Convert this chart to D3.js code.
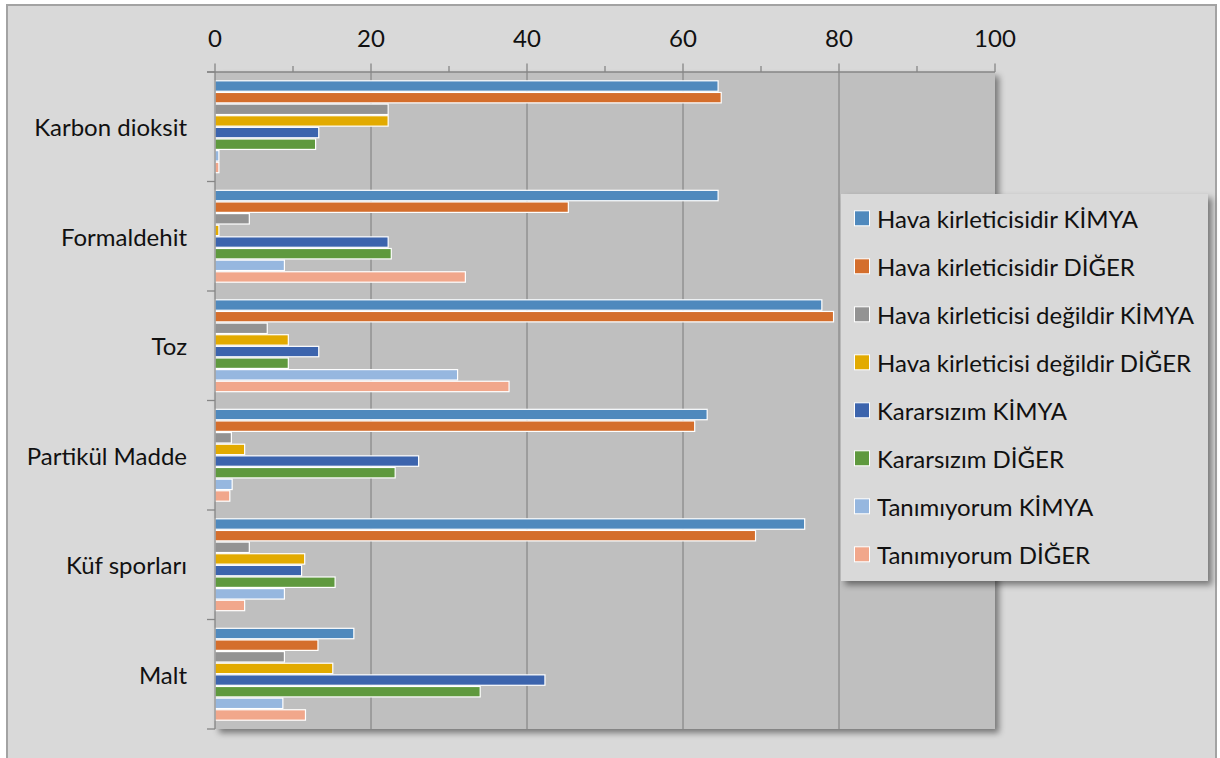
<!DOCTYPE html>
<html>
<head>
<meta charset="utf-8">
<script src="https://cdn.jsdelivr.net/npm/d3@7"></script>
<style>
  html, body { margin: 0; padding: 0; background: #ffffff; }
  svg { display: block; font-family: Lato, "Open Sans", sans-serif; }
</style>
</head>
<body>
<svg id="chart" width="1220" height="758"></svg>
<script>
// Substances asked about (top to bottom)
const categories = ["Karbon dioksit", "Formaldehit", "Toz", "Partikül Madde", "Küf sporları", "Malt"];

// Response series (legend order = bar order within each group)
const seriesNames = [
  "Hava kirleticisidir KİMYA",
  "Hava kirleticisidir DİĞER",
  "Hava kirleticisi değildir KİMYA",
  "Hava kirleticisi değildir DİĞER",
  "Kararsızım KİMYA",
  "Kararsızım DİĞER",
  "Tanımıyorum KİMYA",
  "Tanımıyorum DİĞER"
];

// Percentages per series, one value per category
const havaKimya      = [64.5, 64.5, 77.8, 63.1, 75.6, 17.8];
const havaDiger      = [64.9, 45.3, 79.3, 61.5, 69.3, 13.2];
const degilKimya     = [22.2,  4.4,  6.7,  2.1,  4.4,  8.9];
const degilDiger     = [22.2,  0.5,  9.4,  3.8, 11.5, 15.1];
const kararsizKimya  = [13.3, 22.2, 13.3, 26.1, 11.1, 42.3];
const kararsizDiger  = [12.9, 22.6,  9.4, 23.1, 15.4, 34.0];
const tanimiyorKimya = [ 0.5,  8.9, 31.1,  2.2,  8.9,  8.7];
const tanimiyorDiger = [ 0.5, 32.1, 37.7,  1.9,  3.8, 11.6];

const seriesValues = [havaKimya, havaDiger, degilKimya, degilDiger,
                      kararsizKimya, kararsizDiger, tanimiyorKimya, tanimiyorDiger];

const seriesColors = ["#4f89bd", "#d46e2c", "#939393", "#e2aa00",
                      "#3c64ad", "#5f993e", "#96b7df", "#f1a78b"];

const xTicks = [0, 20, 40, 60, 80, 100];

// Layout
const W = 1220, H = 758;
const plot = { left: 215, right: 995, top: 72, bottom: 729 };
const FONT = 24;

const svg = d3.select("#chart");

// Drop shadow used by the plot area and legend
const defs = svg.append("defs");
const shadow = defs.append("filter").attr("id", "shadow")
  .attr("x", "-5%").attr("y", "-5%").attr("width", "115%").attr("height", "115%");
shadow.append("feDropShadow")
  .attr("dx", 4).attr("dy", 4).attr("stdDeviation", 3)
  .attr("flood-color", "#000").attr("flood-opacity", 0.45);

// Chart background with its frame
svg.append("rect")
  .attr("x", 7).attr("y", 5).attr("width", 1209).attr("height", 770)
  .attr("fill", "#d9d9d9").attr("stroke", "#a3a3a3").attr("stroke-width", 2);

// Scales
const x = d3.scaleLinear().domain([0, 100]).range([plot.left, plot.right]);
const y = d3.scaleBand().domain(categories).range([plot.top, plot.bottom])
  .paddingInner(0.15).paddingOuter(0.075);
const yInner = d3.scaleBand().domain(d3.range(seriesNames.length)).range([0, y.bandwidth()]);

// Plot area
svg.append("rect")
  .attr("x", plot.left).attr("y", plot.top)
  .attr("width", plot.right - plot.left).attr("height", plot.bottom - plot.top)
  .attr("fill", "#bfbfbf").attr("filter", "url(#shadow)");

// Vertical gridlines at the major ticks
svg.append("g").selectAll("line")
  .data(xTicks.filter(d => d > 0 && d < 100))
  .join("line")
  .attr("x1", d => x(d)).attr("x2", d => x(d))
  .attr("y1", plot.top).attr("y2", plot.bottom)
  .attr("stroke", "#8a8a8a").attr("stroke-width", 1.3);

// Bars
const groups = svg.append("g").selectAll("g")
  .data(categories)
  .join("g")
  .attr("transform", d => `translate(0,${y(d)})`);

groups.selectAll("rect")
  .data((cat, ci) => seriesValues.map((vals, si) => ({ si, v: vals[ci] })))
  .join("rect")
  .attr("x", x(0))
  .attr("y", d => yInner(d.si) + 0.6)
  .attr("width", d => x(d.v) - x(0))
  .attr("height", yInner.bandwidth() - 1.2)
  .attr("fill", d => seriesColors[d.si])
  .attr("stroke", "#ffffff").attr("stroke-width", 1.2);

// Top value axis: major and minor ticks
const axisG = svg.append("g");
axisG.append("line")
  .attr("x1", plot.left - 8).attr("x2", plot.right)
  .attr("y1", plot.top).attr("y2", plot.top)
  .attr("stroke", "#868686").attr("stroke-width", 1.3);
axisG.selectAll("line.minor")
  .data(d3.range(10, 100, 20))
  .join("line").attr("class", "minor")
  .attr("x1", d => x(d)).attr("x2", d => x(d))
  .attr("y1", plot.top - 6).attr("y2", plot.top)
  .attr("stroke", "#868686").attr("stroke-width", 1.3);
axisG.selectAll("line.major")
  .data(xTicks)
  .join("line").attr("class", "major")
  .attr("x1", d => x(d)).attr("x2", d => x(d))
  .attr("y1", plot.top - 8.5).attr("y2", plot.top)
  .attr("stroke", "#868686").attr("stroke-width", 1.3);
axisG.selectAll("text")
  .data(xTicks)
  .join("text")
  .attr("x", d => x(d)).attr("y", 37)
  .attr("text-anchor", "middle").attr("dominant-baseline", "central")
  .attr("font-size", FONT).attr("fill", "#111")
  .text(d => d);

// Left category axis
const catAxis = svg.append("g");
catAxis.append("line")
  .attr("x1", plot.left).attr("x2", plot.left)
  .attr("y1", plot.top).attr("y2", plot.bottom)
  .attr("stroke", "#868686").attr("stroke-width", 1.3);
const boundaries = d3.range(categories.length + 1).map(i => plot.top + i * (plot.bottom - plot.top) / categories.length);
catAxis.selectAll("line.tick")
  .data(boundaries)
  .join("line").attr("class", "tick")
  .attr("x1", plot.left - 8).attr("x2", plot.left)
  .attr("y1", d => d).attr("y2", d => d)
  .attr("stroke", "#868686").attr("stroke-width", 1.3);
catAxis.selectAll("text")
  .data(categories)
  .join("text")
  .attr("x", 187)
  .attr("y", d => y(d) + y.bandwidth() / 2)
  .attr("text-anchor", "end").attr("dominant-baseline", "central")
  .attr("font-size", FONT).attr("fill", "#111")
  .text(d => d);

// Legend
const legend = svg.append("g");
legend.append("rect")
  .attr("x", 841).attr("y", 194).attr("width", 367).attr("height", 387)
  .attr("fill", "#d9d9d9").attr("filter", "url(#shadow)");
const items = legend.selectAll("g.item")
  .data(seriesNames)
  .join("g").attr("class", "item")
  .attr("transform", (d, i) => `translate(0,${218.3 + i * 48})`);
items.append("rect")
  .attr("x", 854.5).attr("y", -7.5).attr("width", 15).attr("height", 15)
  .attr("fill", (d, i) => seriesColors[i])
  .attr("stroke", "#ffffff").attr("stroke-width", 1);
items.append("text")
  .attr("x", 877).attr("y", 0)
  .attr("dominant-baseline", "central")
  .attr("font-size", FONT).attr("fill", "#111")
  .text(d => d);
</script>
</body>
</html>
